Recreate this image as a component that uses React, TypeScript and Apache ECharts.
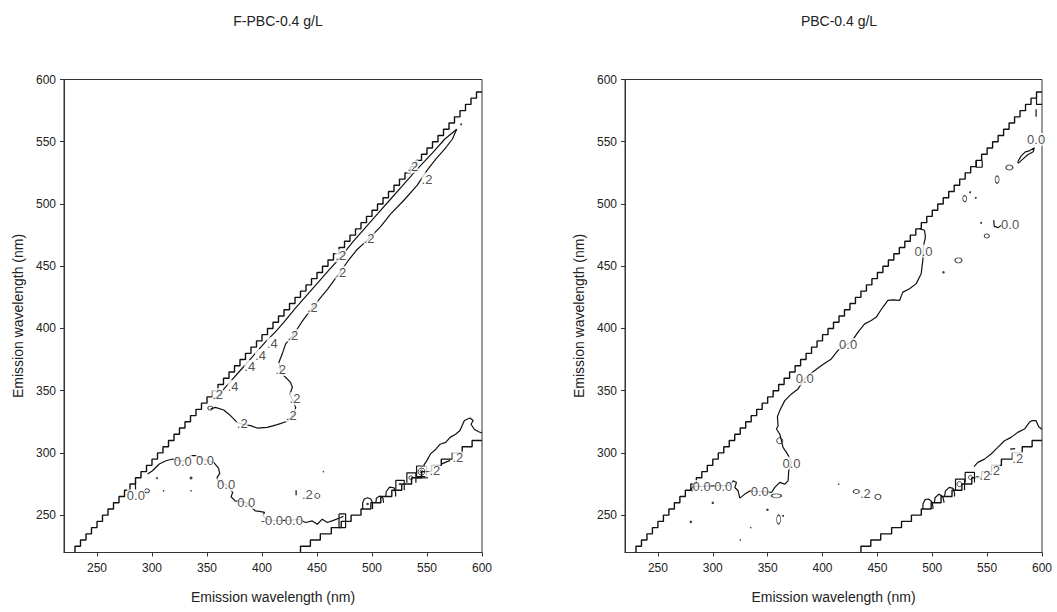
import React, { useEffect, useRef } from 'react';
import * as echarts from 'echarts';

type Pt = [number, number];
type Lbl = [number, number, string];
type Oval = [number, number, number, number];

const FONT = 'Liberation Sans, Arial, sans-serif';
const AXIS_MIN = 220;
const AXIS_MAX = 600;
const tickValues = [250, 300, 350, 400, 450, 500, 550, 600];
const panelTitles = ['F-PBC-0.4 g/L', 'PBC-0.4 g/L'];
const axisName = 'Emission wavelength (nm)';

// masked-region boundaries: [riser x, new level]
const upperStairRisers: Pt[] = [
  [230, 225], [235, 230], [240, 235], [245, 240], [250, 245], [255, 250], [260, 255], [265, 260],
  [270, 265], [275, 270], [280, 275], [285, 280], [290, 285], [295, 290], [300, 295], [305, 300],
  [310, 305], [315, 310], [320, 315], [325, 320], [330, 325], [335, 330], [340, 335], [345, 340],
  [350, 345], [355, 350], [360, 355], [365, 360], [370, 365], [375, 370], [380, 375], [385, 380],
  [390, 385], [395, 390], [400, 395], [405, 400], [410, 405], [415, 410], [420, 415], [425, 420],
  [430, 425], [435, 430], [440, 435], [445, 440], [450, 445], [455, 450], [460, 455], [465, 460],
  [470, 465], [475, 470], [480, 475], [485, 480], [490, 485], [495, 490], [500, 495], [505, 500],
  [510, 505], [515, 510], [520, 515], [525, 520], [530, 525], [535, 530], [540, 535], [545, 540],
  [550, 545], [555, 550], [560, 555], [565, 560], [570, 565], [575, 570], [580, 575], [585, 580],
  [590, 585], [595, 590],
];
const lowerStairRisers: Pt[] = [
  [435, 225], [444, 230], [453, 235], [463, 240], [472, 245], [481, 250], [490, 255], [499, 260],
  [508, 265], [518, 270], [527, 275], [536, 280], [545, 285], [554, 290], [563, 295], [573, 300],
  [582, 305], [591, 310],
];

// ---------- left panel (F-PBC) ----------
const leftOuter: Pt[] = [
  [577, 560], [573, 552], [566, 544], [558, 536], [550, 527], [541, 515], [529, 503], [517, 492],
  [508, 482], [497, 472], [486, 463], [478, 454], [471.6, 446], [460, 432], [446, 417], [436, 405],
  [428, 394], [421.5, 387.6], [418.4, 379.6], [415.4, 372.8], [417, 366], [420, 362], [426, 356.7],
  [427.6, 352.7], [425.4, 347.4], [428, 342], [430.6, 336.6], [429, 331.3], [423, 325.4],
  [413.9, 322.7], [404.8, 320.5], [395.7, 320], [389.6, 321.9], [382, 323], [377.4, 324.5],
  [371.3, 330], [365.2, 334.5], [357.6, 336.6], [353.1, 335.3],
];
const leftInner: Pt[] = [
  [577, 560], [566, 552], [555, 541], [540, 527], [529, 516], [517, 504], [505, 492], [493, 480],
  [482, 469], [471.6, 457.4], [460, 446], [450, 436], [440, 426], [430, 416], [420, 405],
  [412, 397], [404, 390], [396, 382], [388, 374], [380, 366], [372, 358], [364, 350], [357, 343],
];
const leftZero: Pt[] = [
  [296, 283], [300.5, 285.7], [306.6, 291.1], [312.7, 293.7], [318.8, 295.1], [327.9, 293.2],
  [334.9, 297.8], [340, 297.8], [348.2, 294.3], [356.1, 292.4], [360.4, 287.8], [361.6, 283.6],
  [359.2, 280.3], [359.8, 277.7], [367.4, 274.4], [373.4, 268.3], [371.9, 264.8], [375.6, 261.5],
  [385.6, 260.2], [393.8, 253.5], [397.8, 253], [402.3, 252.2], [400.8, 249.5], [403.8, 246.8],
  [411.4, 245.5], [426.6, 246], [433.6, 246.7], [439.6, 244.1], [445.7, 245.4], [450.3, 242.7],
  [454.8, 246.8], [459.4, 244.1], [465.5, 246], [471.6, 248.1], [474, 249],
];
const leftZeroStub: Pt[] = [[285, 277], [285, 270]];
const leftTick: Pt[] = [[431, 266], [431, 270]];
const leftWavy: Pt[] = [
  [600, 316], [597, 317], [593, 319], [590, 323], [592, 326], [589, 328], [584, 326], [582, 322],
  [580, 318], [576, 315], [571, 312.5], [567, 308.5], [562, 307], [558, 303], [553, 299],
  [550, 294], [547, 290],
];
const leftDash: Pt[] = [[563, 291], [571, 294]];
const leftBumps: Pt[][] = [
  [[491.5, 255], [491.5, 260], [493, 263], [496, 264], [499, 263], [500.5, 260], [500.5, 255]],
  [[503.5, 260], [504, 263.5], [507, 265.5], [510, 263.5], [510.5, 260]],
  [[512.5, 265], [513, 269], [516, 272.5], [520, 272], [521.5, 268], [521.5, 265]],
  [[521.7, 270], [521.7, 278], [529.3, 278], [529.3, 270]],
  [[531.7, 276], [531.7, 284], [539.9, 284], [539.9, 276]],
  [[540.5, 281], [540.5, 289.5], [549.6, 289.5], [549.6, 281], [540.5, 281]],
  [[540, 280], [551, 280]],
  [[470, 251], [476, 251], [476, 240], [470, 240], [470, 251]],
];
const leftLabels: Lbl[] = [
  [550, 520, '.2'], [497.4, 472.2, '.2'], [471.6, 445, '.2'], [445.8, 417.2, '.2'], [428, 394.3, '.2'],
  [416.9, 367, '.2'], [430, 343.4, '.2'], [426.6, 330, '.2'], [382, 323.3, '.2'],
  [537, 530, '.2'], [471.6, 458.4, '.2'], [409.3, 387.7, '.4'], [398.6, 378.3, '.4'],
  [388.9, 369.4, '.4'], [373.7, 353.3, '.4'], [359.7, 346.9, '.2'],
  [285.3, 265.6, '0.0'], [327.9, 293.2, '0.0'], [348.2, 294.3, '0.0'], [367.4, 274.4, '0.0'],
  [385.6, 260.2, '0.0'], [409, 245.5, '-0.0'], [429, 246, '0.0'], [441.2, 266.9, '.2'],
  [578, 296, '.2'], [555.2, 285.7, '-.2'],
];
const leftOvals: Oval[] = [
  [295.4, 269.6, 5, 4], [450.3, 265.5, 5, 5], [545, 285, 7, 7], [545, 285, 3, 3], [535.4, 280, 4, 4],
  [353, 336, 5, 4],
];
const leftDots: Oval[] = [
  [304.5, 279.8, 2, 2], [335.5, 279.8, 3, 3], [310.5, 269.6, 1.5, 1.5], [335.5, 269.6, 1.5, 1.5],
  [455.8, 284.9, 1.5, 1.5], [525.5, 275, 2.5, 2.5], [496, 259, 2.5, 2.5], [581, 564, 2, 2],
];

// ---------- right panel (PBC) ----------
const rightMain: Pt[] = [
  [488.4, 480.2], [492.9, 478.9], [493.8, 473.5], [492, 466], [491.4, 454.7], [489.9, 444],
  [485.4, 436], [479.3, 431.9], [473.2, 429.2], [470.2, 422.5], [464.1, 423], [459.6, 422.5],
  [455, 417.2], [449, 409.1], [444.4, 406.4], [438.4, 403.7], [432.3, 397], [427, 390],
  [414.1, 382.3], [408, 375.5], [399, 370.2], [392.9, 366.2], [384, 360], [377.7, 351.4],
  [371.7, 347.4], [365.6, 342], [361, 334], [358.9, 329.1], [359.5, 321.9], [358, 319.2],
  [361, 315.2], [362, 312], [364, 304.4], [367.1, 300.4], [370, 296], [371.7, 291.8],
  [369.2, 285.7], [368.6, 277.6], [365.6, 274.9], [361, 276.3], [356.5, 272.3], [353.5, 268.2],
  [348, 269], [342.8, 268.8], [333.7, 269.5], [329.2, 266.9], [324.6, 263.7], [323.1, 269.6],
  [320.1, 272.2], [321.6, 276.3], [318.6, 277.6], [315, 274], [300, 273.5], [282, 273],
  [280.5, 271], [281.5, 269],
];
const rightTopLoop: Pt[] = [
  [577.9, 533.9], [580.9, 538.4], [584.8, 541.9], [588.5, 542.7], [593, 545.1], [592, 542],
  [587, 539.5], [582.5, 536], [578.5, 532.8], [577.9, 533.9],
];
const rightHook: Pt[] = [[556, 487], [556.5, 482], [560, 481], [563, 483]];
const rightTick: Pt[] = [[594.6, 570], [594.6, 576]];
const rightCornerBox: Pt[] = [[595, 585], [595, 580], [600, 580]];
const rightStairBox: Pt[] = [[540, 535], [540, 529.5], [545.5, 529.5], [545.5, 535]];
const rightWavy: Pt[] = [
  [600, 319], [597, 321], [594.6, 325.9], [591, 326], [588.5, 324.6], [584, 319.2], [577.9, 316.5],
  [571.8, 312.5], [565.8, 309.8], [559.7, 304.4], [553.6, 299.1], [547.6, 295], [541.5, 292.4],
  [538, 289],
];
const rightDash: Pt[] = [[571, 303], [575.5, 303.5]];
const rightBumps: Pt[][] = [
  [[491.5, 255], [491.5, 259], [493.5, 262.5], [496.5, 263], [499.5, 261], [500.6, 257], [500.6, 255]],
  [[502, 260], [502.5, 264], [506, 266.9], [509.5, 265], [510.6, 261], [510.6, 260]],
  [[511.2, 265], [512, 269.5], [515.5, 272.3], [519, 271.5], [520.3, 267.5], [520.3, 265]],
  [[521.2, 270], [521.2, 278.9], [529.4, 278.9], [529.4, 270]],
  [[530, 276.3], [530, 284.3], [538.5, 284.3], [538.5, 276.3]],
];
const rightLabels: Lbl[] = [
  [492, 462.2, '0.0'], [423.3, 387, '0.0'], [383.8, 359.4, '0.0'], [371.7, 291.8, '0.0'],
  [342.8, 268.8, '0.0'], [309.5, 273, '0.0'], [289.8, 273, '0.0'], [439, 267.4, '.2'],
  [594.6, 551.9, '0.0'], [570.9, 483.7, '0.0'], [577.9, 295.6, '.2'], [556.7, 285.7, '.2'],
  [546.1, 281.6, '-.2'],
];
const rightOvals: Oval[] = [
  [361, 309.8, 6, 6], [358, 265.5, 10, 4], [360, 246.5, 4, 9], [430.8, 269, 6, 4], [450.5, 264.7, 6, 5],
  [524.8, 274.9, 5, 5], [534.8, 280.3, 4, 4], [570.3, 529.3, 7, 5], [559.1, 519.6, 4, 7],
  [529.6, 504.3, 4, 6], [549.7, 474.3, 5, 4], [523.9, 454.7, 7, 5],
];
const rightDots: Oval[] = [
  [300, 259.9, 2.5, 2.5], [280, 244.6, 2.5, 2.5], [349.8, 254.3, 2.5, 2.5], [334.6, 240, 1.5, 1.5],
  [325, 230.1, 1.5, 1.5], [364, 249.5, 2, 2], [414.7, 274.9, 1.5, 1.5], [534.5, 509.4, 2, 2],
  [539.6, 504.9, 2, 2], [544.5, 484.8, 2, 2], [510.2, 445.1, 2.5, 2.5],
];

function stairPoints(risers: Pt[], end: number): Pt[] {
  const pts: Pt[] = [];
  let prev = AXIS_MIN;
  risers.forEach(([x, lv]) => {
    pts.push([x, prev]);
    pts.push([x, lv]);
    prev = lv;
  });
  pts.push([end, prev]);
  return pts;
}

const lineS = (data: Pt[], g: number, width = 1.2) => ({
  type: 'line', xAxisIndex: g, yAxisIndex: g, data, showSymbol: false, symbol: 'none',
  lineStyle: { color: '#111', width }, silent: true, z: 2, clip: true,
});
const labelS = (items: Lbl[], g: number) => ({
  type: 'scatter', xAxisIndex: g, yAxisIndex: g, symbol: 'circle', symbolSize: 1,
  itemStyle: { color: 'rgba(0,0,0,0)' }, silent: true, z: 6,
  data: items.map(([x, y, t]) => ({ value: [x, y], name: t })),
  label: {
    show: true, position: 'inside', formatter: '{b}', fontSize: 13, color: '#222', fontFamily: FONT,
    backgroundColor: '#fff', padding: [0, 0], textBorderWidth: 0,
  },
});
const ovalS = (items: Oval[], g: number, filled: boolean) => ({
  type: 'scatter', xAxisIndex: g, yAxisIndex: g, symbol: 'circle', silent: true, z: 4,
  data: items.map(([x, y, w, h]) => ({ value: [x, y], symbolSize: [w, h] })),
  itemStyle: filled
    ? { color: '#111' }
    : { color: 'rgba(0,0,0,0)', borderColor: '#111', borderWidth: 1 },
});

const mkX = (g: number) => ({
  type: 'value', gridIndex: g, min: AXIS_MIN, max: AXIS_MAX,
  name: axisName, nameLocation: 'middle', nameGap: 37,
  nameTextStyle: { fontSize: 14, color: '#222', fontFamily: FONT },
  axisLine: { show: true, lineStyle: { color: '#333', width: 1 } },
  axisTick: { show: true, length: 4, customValues: tickValues, lineStyle: { color: '#333' } },
  axisLabel: { customValues: tickValues, fontSize: 12, color: '#222', margin: 9, fontFamily: FONT },
  splitLine: { show: false },
});
const mkY = (g: number) => ({
  type: 'value', gridIndex: g, min: AXIS_MIN, max: AXIS_MAX,
  name: axisName, nameLocation: 'middle', nameGap: 39,
  nameTextStyle: { fontSize: 14, color: '#222', fontFamily: FONT },
  axisLine: { show: true, lineStyle: { color: '#333', width: 1 } },
  axisTick: { show: true, length: 4, customValues: tickValues, lineStyle: { color: '#333' } },
  axisLabel: { customValues: tickValues, fontSize: 12, color: '#222', margin: 8, fontFamily: FONT },
  splitLine: { show: false },
});

export default function App() {
  const ref = useRef<HTMLDivElement>(null);
  useEffect(() => {
    if (!ref.current) return;
    const chart = echarts.init(ref.current, undefined, { renderer: 'svg' });
    const upper = stairPoints(upperStairRisers, AXIS_MAX);
    const lower = stairPoints(lowerStairRisers, AXIS_MAX);
    const series: any[] = [];
    [0, 1].forEach((g) => {
      series.push(lineS(upper, g, 1.4));
      series.push(lineS(lower, g, 1.4));
    });
    [leftOuter, leftInner, leftZero, leftZeroStub, leftTick, leftWavy, leftDash, ...leftBumps].forEach((d) =>
      series.push(lineS(d, 0)));
    series.push(ovalS(leftOvals, 0, false));
    series.push(ovalS(leftDots, 0, true));
    series.push(labelS(leftLabels, 0));
    [rightMain, rightTopLoop, rightHook, rightTick, rightCornerBox, rightStairBox, rightWavy, rightDash, ...rightBumps]
      .forEach((d) => series.push(lineS(d, 1)));
    series.push(ovalS(rightOvals, 1, false));
    series.push(ovalS(rightDots, 1, true));
    series.push(labelS(rightLabels, 1));

    chart.setOption({
      animation: false,
      backgroundColor: '#fff',
      title: [
        { text: panelTitles[0], left: 273, top: 9, textAlign: 'center',
          textStyle: { fontSize: 14, fontWeight: 'normal', color: '#222', fontFamily: FONT } },
        { text: panelTitles[1], left: 834, top: 9, textAlign: 'center',
          textStyle: { fontSize: 14, fontWeight: 'normal', color: '#222', fontFamily: FONT } },
      ],
      grid: [
        { left: 64, top: 79.5, width: 418, height: 473, show: true, borderColor: '#333', borderWidth: 1,
          backgroundColor: 'rgba(0,0,0,0)' },
        { left: 625, top: 79.5, width: 417, height: 473, show: true, borderColor: '#333', borderWidth: 1,
          backgroundColor: 'rgba(0,0,0,0)' },
      ],
      xAxis: [mkX(0), mkX(1)],
      yAxis: [mkY(0), mkY(1)],
      series,
    });
    return () => chart.dispose();
  }, []);
  return (
    <div
      ref={ref}
      style={{ position: 'fixed', left: 0, top: 0, width: 1057, height: 612, background: '#fff' }}
    />
  );
}
